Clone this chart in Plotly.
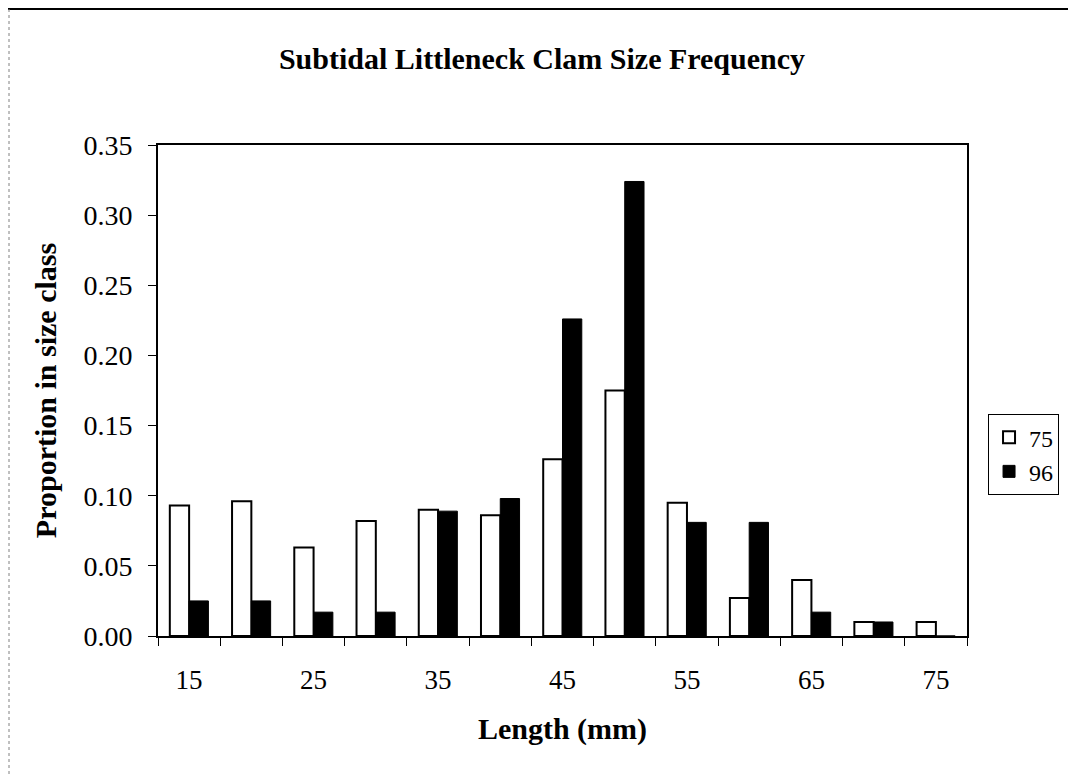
import plotly.graph_objects as go

# size classes (mm) and proportion in each class
lengths = [15, 20, 25, 30, 35, 40, 45, 50, 55, 60, 65, 70, 75]
prop_75 = [0.093, 0.096, 0.063, 0.082, 0.090, 0.086, 0.126, 0.175, 0.095, 0.027, 0.040, 0.010, 0.010]
prop_96 = [0.025, 0.025, 0.017, 0.017, 0.089, 0.098, 0.226, 0.324, 0.081, 0.081, 0.017, 0.010, 0.0]
x_ticks = [15, 25, 35, 45, 55, 65, 75]
y_ticks = [0.00, 0.05, 0.10, 0.15, 0.20, 0.25, 0.30, 0.35]

serif = "Liberation Serif, Times New Roman, serif"

fig = go.Figure()
fig.add_trace(go.Bar(x=lengths, y=prop_75, name="75",
                     marker=dict(color="white", line=dict(color="black", width=2))))
fig.add_trace(go.Bar(x=lengths, y=prop_96, name="96",
                     marker=dict(color="black", line=dict(color="black", width=1))))

# category boundaries for the small tick marks
bounds = [v - 2.5 for v in lengths] + [lengths[-1] + 2.5]

# the page body adds an 8px offset, so the figure is 8px smaller each way
fig.update_layout(
    width=1068, height=771,
    margin=dict(l=150, r=109, t=137, b=143, autoexpand=False),
    paper_bgcolor="white", plot_bgcolor="white",
    barmode="group", bargap=0.38, bargroupgap=0,
    font=dict(family=serif, size=27, color="black"),
    title=dict(text="<b>Subtidal Littleneck Clam Size Frequency</b>",
               x=0.5, xanchor="center", y=0.935, yanchor="middle",
               font=dict(family=serif, size=30, color="black")),
    legend=dict(x=1.026, xanchor="left", y=0.452, yanchor="top",
                bordercolor="black", borderwidth=1, bgcolor="white",
                font=dict(family=serif, size=24), tracegroupgap=0,
                itemwidth=30),
    showlegend=True,
)

fig.update_xaxes(
    range=[12.5, 77.5], tickvals=x_ticks, ticktext=[str(v) for v in x_ticks],
    ticks="", ticklabelstandoff=19,
    minor=dict(tickvals=bounds, ticks="outside", ticklen=8, tickcolor="black", tickwidth=1),
    showline=True, linecolor="black", linewidth=2, mirror=True,
    showgrid=False, zeroline=False,
    tickfont=dict(family=serif, size=27),
    title=dict(text="<b>Length (mm)</b>", standoff=24, font=dict(family=serif, size=30)),
)
fig.update_yaxes(
    range=[0, 0.35], tickvals=y_ticks, ticktext=[f"{v:.2f}" for v in y_ticks],
    ticks="outside", ticklen=8, tickcolor="black", tickwidth=1, ticklabelstandoff=10,
    showline=True, linecolor="black", linewidth=2, mirror=True,
    showgrid=False, zeroline=False,
    tickfont=dict(family=serif, size=28),
    title=dict(text="<b>Proportion in size class</b>", standoff=18, font=dict(family=serif, size=30)),
)

# scanned page frame: top rule and faint left edge
fig.add_shape(type="line", xref="paper", yref="paper",
              x0=-150 / 809, x1=1 + 109 / 809, y0=1 + 136 / 491, y1=1 + 136 / 491,
              line=dict(color="black", width=2))
fig.add_shape(type="line", xref="paper", yref="paper",
              x0=-149 / 809, x1=-149 / 809, y0=1 + 136 / 491, y1=-140 / 491,
              line=dict(color="gray", width=1, dash="dot"))

fig.write_html("out.html")
